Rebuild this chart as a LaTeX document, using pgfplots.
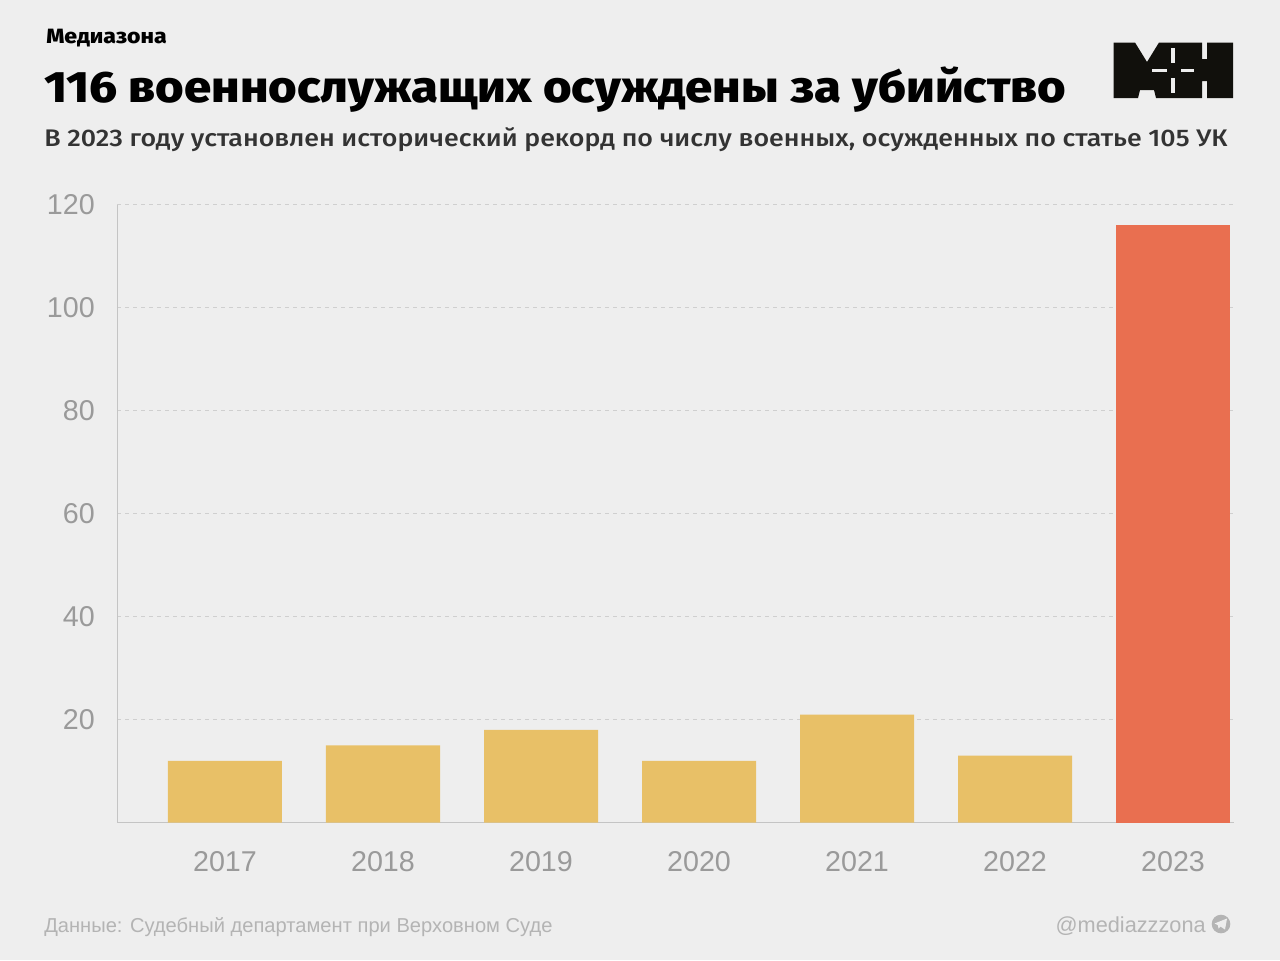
\documentclass[border=0pt]{standalone}
\usepackage{fontspec}
\setmainfont{Liberation Sans}
\newfontfamily\titlefont[FakeStretch=1.114]{Fira Sans ExtraBold}
\newfontfamily\subfont[FakeStretch=1.114]{Fira Sans Medium}
\usepackage{pgfplots}
\pgfplotsset{compat=1.18}
\definecolor{bg}{HTML}{EEEEEE}
\definecolor{lowbar}{HTML}{E8C067}
\definecolor{topbar}{HTML}{E96F50}
\definecolor{gridc}{HTML}{CFCFCF}
\definecolor{axisc}{HTML}{C4C4C4}
\definecolor{tickc}{HTML}{9A9A9A}
\definecolor{footc}{HTML}{B4B4B4}
\definecolor{logoc}{HTML}{11100C}

\begin{document}
\begin{tikzpicture}[x=0.75pt,y=-0.75pt]
  % 1 unit = 1 pixel of the reference
  \fill[bg] (0,0) rectangle (1280,960);

  \begin{axis}[
    at={(87.75pt,-617pt)}, anchor=south west,
    scale only axis,
    width=837.75pt, height=463.5pt,
    xmin=-0.6835, xmax=6.386,
    ymin=0, ymax=120,
    axis x line*=bottom, axis y line*=left,
    axis line style={axisc, line width=0.75pt, -},
    major tick length=0pt,
    xtick={0,...,6},
    xticklabels={2017,2018,2019,2020,2021,2022,2023},
    ytick={20,40,60,80,100,120},
    ymajorgrids,
    grid style={gridc, line width=0.75pt, dash pattern=on 3pt off 3pt},
    /pgf/number format/assume math mode=true,
    tick label style={font=\fontsize{21.5pt}{24pt}\selectfont, text=tickc, inner sep=0pt},
    yticklabel style={xshift=-16.5pt},
    xticklabel style={yshift=-21.5pt},
    ybar, bar width=85.5pt, bar shift=0pt,
  ]
  \addplot[fill=lowbar, draw=none] coordinates {
    (0,12) (1,15) (2,18) (3,12) (4,21) (5,13)
  };
  \addplot[fill=topbar, draw=none] coordinates {
    (6,116)
  };
  \end{axis}

  % heading
  \node[anchor=base west, inner sep=0pt] at (46,43) {\titlefont\fontsize{15.5pt}{18pt}\selectfont Медиазона};
  \node[anchor=base west, inner sep=0pt] at (44,102) {\titlefont\fontsize{33pt}{38pt}\selectfont 116 военнослужащих осуждены за убийство};
  \node[anchor=base west, inner sep=0pt, text=black!80] at (44,146) {\subfont\fontsize{18pt}{22pt}\selectfont В 2023 году установлен исторический рекорд по числу военных, осужденных по статье 105 УК};

  % footer
  \node[anchor=base west, inner sep=0pt, text=footc] at (44,932) {\fontsize{15.1pt}{18pt}\selectfont Данные: Судебный департамент при Верховном Суде};
  \node[anchor=base east, inner sep=0pt, text=footc] at (1206,932) {\fontsize{16.3pt}{19pt}\selectfont @mediazzzona};

  % telegram icon
  \fill[footc] (1221,924) circle (9.3);
  \fill[bg] (1214.5,923.5) -- (1227,918.5) -- (1225,929.5) -- (1220.5,926.5) -- (1218.5,928.5) -- (1217.8,925) -- cycle;

  % logo
  \fill[logoc] (1113.5,42.5) -- (1135,42.5) -- (1147,62) -- (1159,42.5) -- (1202,42.5) -- (1202,59) -- (1207,59) -- (1207,42.5)
    -- (1233,42.5) -- (1233,98) -- (1207,98) -- (1207,81) -- (1202,81) -- (1202,98) -- (1156,98) -- (1154,90) -- (1140,90) -- (1138,98)
    -- (1113.5,98) -- cycle;
  \fill[bg] (1171,48) rectangle (1175,63);
  \fill[bg] (1171,78) rectangle (1175,93);
  \fill[bg] (1152,69) rectangle (1167,72);
  \fill[bg] (1181,69) rectangle (1194,72);
\end{tikzpicture}
\end{document}
